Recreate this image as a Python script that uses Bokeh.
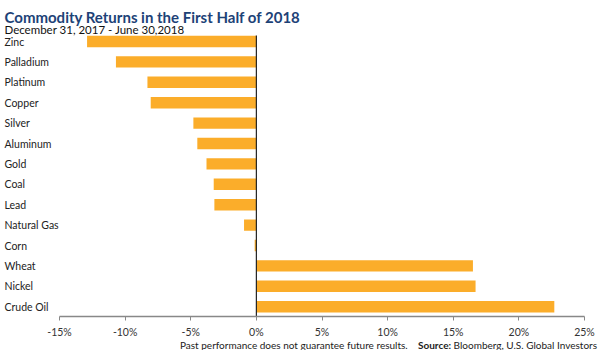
from bokeh.plotting import figure
from bokeh.models import (Range1d, Label, LabelSet, ColumnDataSource, FixedTicker,
                          PrintfTickFormatter, Div)
from bokeh.core.properties import value
from bokeh.layouts import column
from bokeh.embed import file_html
from bokeh.resources import INLINE

commodities = ["Zinc", "Palladium", "Platinum", "Copper", "Silver", "Aluminum", "Gold",
               "Coal", "Lead", "Natural Gas", "Corn", "Wheat", "Nickel", "Crude Oil"]
returns = [-12.9, -10.7, -8.3, -8.05, -4.8, -4.5, -3.8, -3.25, -3.2, -0.94, -0.13,
           16.5, 16.7, 22.7]
x_ticks = [-15, -10, -5, 0, 5, 10, 15, 20, 25]

title_text = "Commodity Returns in the First Half of 2018"
subtitle_text = "December 31, 2017 - June 30,2018"
disclaimer = "Past performance does not guarantee future results."
source_bold = "Source:"
source_text = "Bloomberg, U.S. Global Investors"

FONT = "Lato"
BAR = "#fbad2a"

n = len(commodities)
rows = [n - 1 - i for i in range(n)]  # Zinc on top
src = ColumnDataSource(dict(cat=commodities, val=returns, row=rows))

# pixel geometry of the frame (frame spans full width, top 0 .. 316)
FRAME_H = 316
px_per_pct = 525 / 40.0
x_start = x_ticks[0] - 59 / px_per_pct
x_end = x_ticks[-1] + 16 / px_per_pct
px_per_row = 20.4
y_start = -9.8 / px_per_row
y_end = y_start + FRAME_H / px_per_row

p = figure(width=600, height=340, output_backend="svg", toolbar_location=None,
           x_range=Range1d(x_start, x_end), y_range=Range1d(y_start, y_end),
           min_border_left=0, min_border_right=0, min_border_top=0,
           min_border_bottom=340 - FRAME_H)
p.outline_line_color = None
p.xgrid.visible = False
p.ygrid.visible = False
p.yaxis.visible = False

p.hbar(y="row", right="val", left=0, height=0.56, source=src, color=BAR, line_color=None)

# zero reference line from top bar down to the axis
p.segment(x0=[0], x1=[0], y0=[y_start], y1=[n - 1 + 0.3], line_color="#222222",
          line_width=1.2)

xa = p.xaxis[0]
xa.bounds = (x_ticks[0], x_ticks[-1])
xa.ticker = FixedTicker(ticks=x_ticks)
xa.formatter = PrintfTickFormatter(format="%d%%")
xa.minor_tick_line_color = None
xa.major_tick_in = 0
xa.major_tick_out = 4
xa.major_tick_line_color = "#888888"
xa.axis_line_color = "#888888"
xa.axis_line_width = 1.5
xa.major_label_text_font = FONT
xa.major_label_text_font_size = "10.5px"
xa.major_label_text_color = "#333333"
xa.major_label_standoff = 5

labels = LabelSet(x=4, y="row", text="cat", source=src, x_units="screen",
                  text_font=value(FONT), text_font_size=value("10.5px"),
                  text_color="#222222", text_align="left", text_baseline="middle")
p.add_layout(labels)

p.add_layout(Label(x=4, y=FRAME_H - 16, x_units="screen", y_units="screen", text=title_text,
                   text_font=FONT, text_font_style="bold", text_font_size="15px",
                   text_color="#1d4277", text_baseline="alphabetic"))
p.add_layout(Label(x=4, y=FRAME_H - 29, x_units="screen", y_units="screen",
                   text=subtitle_text, text_font=FONT, text_font_size="11.5px",
                   text_color="#111111", text_baseline="alphabetic"))

footer = Div(
    text=(f"{disclaimer}&nbsp;&nbsp;&nbsp;&nbsp;<b>{source_bold}</b> {source_text}"),
    width=600, height=10, margin=(0, 0, 0, 0),
    styles={"font-family": FONT, "font-size": "10px", "color": "#222222",
            "text-align": "right", "padding-right": "3px", "padding-top": "0px",
            "box-sizing": "border-box", "width": "600px", "white-space": "nowrap",
            "line-height": "11px", "overflow": "visible"})

layout = column(p, footer, spacing=0, margin=(0, 0, 0, 0))
open("out.html", "w").write(file_html(layout, INLINE))
